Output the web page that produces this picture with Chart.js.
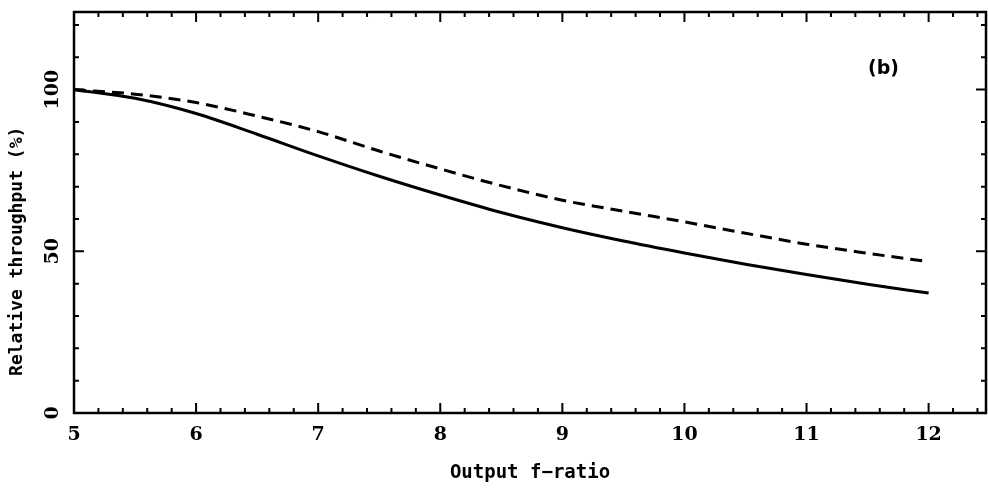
<!DOCTYPE html>
<html>
<head>
<meta charset="utf-8">
<script src="https://cdn.jsdelivr.net/npm/chart.js@4/dist/chart.umd.min.js"></script>
<style>
html,body{margin:0;padding:0;background:#fff;}
#wrap{width:988px;height:491px;}
</style>
</head>
<body>
<div id="wrap"><canvas id="c" width="988" height="491"></canvas></div>
<script>
// ---- data ----
const fRatio = [5, 5.5, 6, 6.5, 7, 7.5, 8, 8.5, 9, 9.5, 10, 10.5, 11, 11.5, 12];
const solidThroughput = [100, 97.3, 92.6, 86.2, 79.5, 73.2, 67.4, 62.0, 57.3, 53.2, 49.5, 46.0, 42.8, 39.8, 37.1];
const dashedThroughput = [100, 98.6, 96, 91.8, 87, 81, 75.5, 70.3, 65.8, 62.4, 59.1, 55.6, 52.2, 49.4, 46.8];
const xTickLabels = ['5', '6', '7', '8', '9', '10', '11', '12'];
const yTickLabels = ['0', '50', '100'];
const xTitle = 'Output f\u2212ratio';
const yTitle = 'Relative throughput (%)';
const panelLabel = '(b)';

const FONT_LBL = 'bold 19px "DejaVu Serif"';
const FONT_TITLE = 'bold 19px "DejaVu Sans Mono"';

const axesPlugin = {
  id: 'axesPlugin',
  afterDatasetsDraw(chart) {
    const ctx = chart.ctx;
    const a = chart.chartArea;
    const xs = chart.scales.x, ys = chart.scales.y;
    ctx.save();
    ctx.strokeStyle = '#000';
    ctx.fillStyle = '#000';
    ctx.lineWidth = 2.5;
    ctx.strokeRect(a.left, a.top, a.right - a.left, a.bottom - a.top);
    ctx.lineWidth = 2;
    // x ticks (major every 1, minor every 0.2)
    for (let i = 0; i <= 37; i++) {
      const v = 5 + i * 0.2;
      if (v > xs.max + 1e-9) break;
      const px = xs.getPixelForValue(v);
      const major = i % 5 === 0;
      const len = major ? 10 : 5;
      ctx.beginPath();
      ctx.moveTo(px, a.bottom); ctx.lineTo(px, a.bottom - len);
      ctx.moveTo(px, a.top); ctx.lineTo(px, a.top + len);
      ctx.stroke();
    }
    // y ticks (major every 50, minor every 10)
    for (let v = 0; v <= ys.max; v += 10) {
      const py = ys.getPixelForValue(v);
      const len = v % 50 === 0 ? 10 : 5;
      ctx.beginPath();
      ctx.moveTo(a.left, py); ctx.lineTo(a.left + len, py);
      ctx.moveTo(a.right, py); ctx.lineTo(a.right - len, py);
      ctx.stroke();
    }
    // x tick labels
    ctx.font = FONT_LBL;
    ctx.textAlign = 'center';
    ctx.textBaseline = 'middle';
    xTickLabels.forEach(t => {
      ctx.fillText(t, xs.getPixelForValue(Number(t)), a.bottom + 22);
    });
    // y tick labels (rotated)
    yTickLabels.forEach(t => {
      const py = ys.getPixelForValue(Number(t));
      ctx.save();
      ctx.translate(a.left - 21, py);
      ctx.rotate(-Math.PI / 2);
      ctx.fillText(t, 0, 0);
      ctx.restore();
    });
    // titles
    ctx.font = FONT_TITLE;
    ctx.fillText(xTitle, (a.left + a.right) / 2, a.bottom + 60);
    ctx.save();
    ctx.translate(17, ys.getPixelForValue(50));
    ctx.rotate(-Math.PI / 2);
    ctx.font = 'bold 18px "DejaVu Sans Mono"';
    ctx.fillText(yTitle, 0, 0);
    ctx.restore();
    // panel label
    ctx.font = 'bold 19px "DejaVu Sans"';
    ctx.fillText(panelLabel, xs.getPixelForValue(11.63), ys.getPixelForValue(106.3));
    ctx.restore();
  }
};

new Chart(document.getElementById('c'), {
  type: 'line',
  data: {
    datasets: [
      {
        data: fRatio.map((x, i) => ({x, y: solidThroughput[i]})),
        borderColor: '#000', borderWidth: 3, pointRadius: 0,
        cubicInterpolationMode: 'monotone', fill: false
      },
      {
        data: fRatio.map((x, i) => ({x, y: dashedThroughput[i]})),
        borderColor: '#000', borderWidth: 3, borderDash: [12, 7], pointRadius: 0,
        cubicInterpolationMode: 'monotone', fill: false
      }
    ]
  },
  options: {
    responsive: false,
    animation: false,
    events: [],
    layout: {padding: {top: 12, right: 2, left: 0, bottom: 0}},
    plugins: {legend: {display: false}, tooltip: {enabled: false}},
    scales: {
      x: {
        type: 'linear', min: 5, max: 12.47,
        grid: {display: false}, border: {display: false},
        ticks: {display: false},
        afterFit(s) { s.height = 78; }
      },
      y: {
        type: 'linear', min: 0, max: 124,
        grid: {display: false}, border: {display: false},
        ticks: {display: false},
        afterFit(s) { s.width = 74; }
      }
    }
  },
  plugins: [axesPlugin]
});
</script>
</body>
</html>
